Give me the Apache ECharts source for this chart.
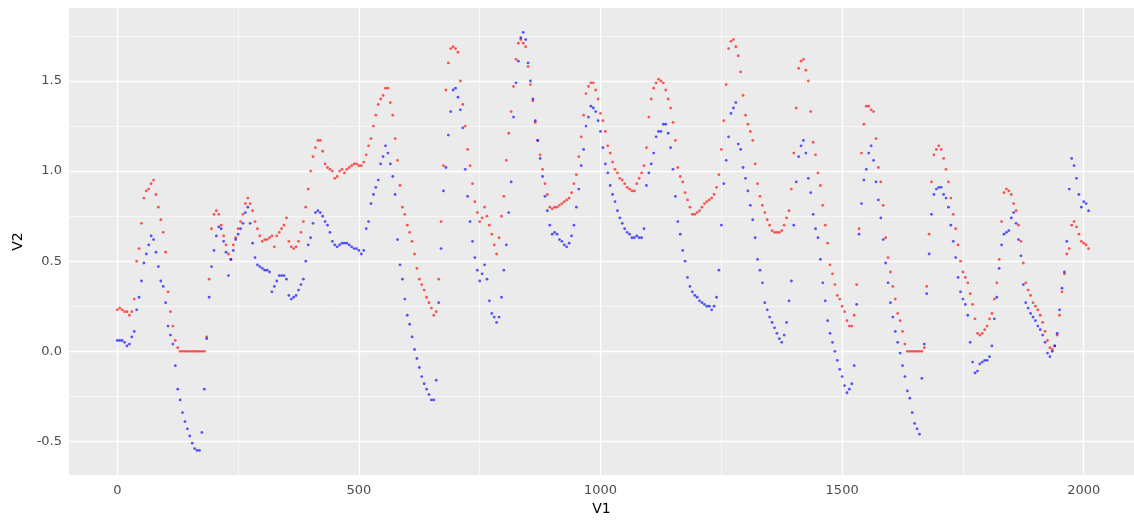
<!DOCTYPE html>
<html>
<head>
<meta charset="utf-8">
<script src="https://cdn.jsdelivr.net/npm/echarts@6/dist/echarts.min.js"></script>
<style>
  html, body { margin: 0; padding: 0; background: #fff; }
  #chart { width: 1134px; height: 521px; }
</style>
</head>
<body>
<div id="chart"></div>
<script>
// V1 runs 0..2010, one reading every 5 units
const v1Step = 5

// red series (V2)
const redV2 = [
  0.23, 0.24, 0.23, 0.22, 0.22, 0.20, 0.22, 0.29, 0.50, 0.57,
  0.71, 0.85, 0.89, 0.90, 0.93, 0.95, 0.87, 0.80, 0.73, 0.66,
  0.55, 0.33, 0.22, 0.14, 0.06, 0.02, 0, 0, 0, 0,
  0, 0, 0, 0, 0, 0, 0, 0.08, 0.40, 0.68,
  0.76, 0.78, 0.76, 0.70, 0.64, 0.59, 0.54, 0.51, 0.59, 0.63,
  0.68, 0.72, 0.76, 0.82, 0.85, 0.82, 0.78, 0.72, 0.68, 0.64,
  0.61, 0.62, 0.62, 0.63, 0.64, 0.58, 0.64, 0.66, 0.68, 0.70,
  0.74, 0.61, 0.58, 0.57, 0.58, 0.61, 0.66, 0.72, 0.80, 0.90,
  1.00, 1.08, 1.13, 1.17, 1.17, 1.11, 1.04, 1.02, 1.01, 1.00,
  0.96, 0.97, 1.00, 1.01, 0.99, 1.01, 1.02, 1.03, 1.04, 1.04,
  1.03, 1.03, 1.05, 1.09, 1.14, 1.18, 1.25, 1.31, 1.37, 1.40,
  1.42, 1.46, 1.46, 1.38, 1.31, 1.18, 1.06, 0.92, 0.80, 0.76,
  0.70, 0.66, 0.61, 0.54, 0.46, 0.40, 0.37, 0.34, 0.30, 0.27,
  0.24, 0.20, 0.22, 0.40, 0.72, 1.03, 1.45, 1.60, 1.68, 1.69,
  1.68, 1.66, 1.50, 1.37, 1.25, 1.12, 1.03, 0.93, 0.83, 0.77,
  0.72, 0.74, 0.80, 0.75, 0.70, 0.65, 0.59, 0.54, 0.63, 0.75,
  0.86, 1.06, 1.21, 1.33, 1.47, 1.62, 1.71, 1.73, 1.71, 1.69,
  1.58, 1.48, 1.39, 1.27, 1.17, 1.09, 1.01, 0.93, 0.87, 0.80,
  0.79, 0.80, 0.80, 0.81, 0.82, 0.83, 0.84, 0.85, 0.88, 0.93,
  0.98, 1.08, 1.19, 1.31, 1.43, 1.47, 1.49, 1.49, 1.45, 1.40,
  1.32, 1.28, 1.22, 1.14, 1.10, 1.05, 1.01, 0.99, 0.96, 0.95,
  0.93, 0.91, 0.90, 0.89, 0.89, 0.93, 0.96, 0.99, 1.03, 1.13,
  1.30, 1.40, 1.46, 1.49, 1.51, 1.50, 1.49, 1.45, 1.40, 1.35,
  1.27, 1.17, 1.02, 0.97, 0.94, 0.88, 0.84, 0.80, 0.76, 0.76,
  0.77, 0.78, 0.80, 0.82, 0.83, 0.84, 0.85, 0.87, 0.91, 0.98,
  1.12, 1.28, 1.48, 1.68, 1.72, 1.73, 1.69, 1.64, 1.55, 1.42,
  1.31, 1.26, 1.22, 1.17, 1.04, 0.93, 0.86, 0.81, 0.77, 0.73,
  0.70, 0.67, 0.66, 0.66, 0.66, 0.67, 0.70, 0.74, 0.78, 0.90,
  1.10, 1.35, 1.57, 1.61, 1.62, 1.56, 1.50, 1.33, 1.16, 1.09,
  0.99, 0.92, 0.81, 0.70, 0.60, 0.48, 0.43, 0.37, 0.31, 0.29,
  0.25, 0.22, 0.17, 0.14, 0.14, 0.20, 0.37, 0.68, 1.10, 1.26,
  1.36, 1.36, 1.34, 1.33, 1.18, 1.02, 0.94, 0.81, 0.63, 0.52,
  0.44, 0.36, 0.29, 0.21, 0.17, 0.11, 0.04, 0, 0, 0,
  0, 0, 0, 0, 0.02, 0.36, 0.65, 0.94, 1.09, 1.12,
  1.14, 1.12, 1.07, 1.01, 0.94, 0.85, 0.76, 0.68, 0.59, 0.50,
  0.44, 0.41, 0.38, 0.32, 0.26, 0.18, 0.10, 0.09, 0.10, 0.12,
  0.14, 0.18, 0.21, 0.29, 0.38, 0.51, 0.72, 0.88, 0.90, 0.89,
  0.87, 0.82, 0.78, 0.70, 0.61, 0.49, 0.38, 0.34, 0.31, 0.27,
  0.25, 0.23, 0.20, 0.16, 0.11, 0.06, 0.02, 0.01, 0.03, 0.09,
  0.20, 0.33, 0.43, 0.54, 0.57, 0.70, 0.72, 0.69, 0.65, 0.61,
  0.60, 0.59, 0.57
]

// blue series (V2)
const blueV2 = [
  0.06, 0.06, 0.06, 0.05, 0.03, 0.04, 0.08, 0.11, 0.23, 0.30,
  0.39, 0.49, 0.54, 0.59, 0.64, 0.62, 0.55, 0.47, 0.39, 0.36,
  0.27, 0.14, 0.09, 0.04, -0.08, -0.21, -0.27, -0.34, -0.39, -0.43,
  -0.47, -0.51, -0.54, -0.55, -0.55, -0.45, -0.21, 0.07, 0.30, 0.47,
  0.56, 0.64, 0.69, 0.68, 0.61, 0.55, 0.42, 0.51, 0.56, 0.62,
  0.65, 0.68, 0.71, 0.77, 0.80, 0.71, 0.60, 0.52, 0.48, 0.47,
  0.46, 0.45, 0.45, 0.44, 0.33, 0.36, 0.39, 0.42, 0.42, 0.42,
  0.40, 0.31, 0.29, 0.30, 0.31, 0.34, 0.37, 0.40, 0.50, 0.59,
  0.63, 0.71, 0.77, 0.78, 0.77, 0.75, 0.72, 0.70, 0.66, 0.61,
  0.59, 0.58, 0.59, 0.60, 0.60, 0.60, 0.59, 0.58, 0.57, 0.57,
  0.56, 0.54, 0.56, 0.68, 0.72, 0.82, 0.87, 0.91, 0.95, 1.04,
  1.08, 1.14, 1.10, 1.04, 0.97, 0.87, 0.62, 0.48, 0.40, 0.29,
  0.20, 0.15, 0.08, 0.01, -0.04, -0.09, -0.14, -0.18, -0.21, -0.24,
  -0.27, -0.27, -0.16, 0.27, 0.57, 0.89, 1.02, 1.20, 1.33, 1.45,
  1.46, 1.41, 1.34, 1.24, 1.01, 0.86, 0.72, 0.61, 0.52, 0.45,
  0.39, 0.43, 0.48, 0.40, 0.28, 0.21, 0.19, 0.16, 0.19, 0.30,
  0.45, 0.59, 0.77, 0.94, 1.30, 1.49, 1.61, 1.74, 1.77, 1.73,
  1.60, 1.50, 1.40, 1.28, 1.17, 1.07, 0.97, 0.86, 0.78, 0.70,
  0.65, 0.66, 0.65, 0.62, 0.61, 0.59, 0.58, 0.60, 0.64, 0.70,
  0.80, 0.90, 1.03, 1.12, 1.25, 1.30, 1.36, 1.35, 1.33, 1.28,
  1.22, 1.13, 1.04, 0.99, 0.92, 0.87, 0.83, 0.78, 0.74, 0.71,
  0.68, 0.66, 0.65, 0.63, 0.63, 0.64, 0.63, 0.63, 0.68, 0.92,
  0.99, 1.04, 1.10, 1.19, 1.22, 1.22, 1.26, 1.26, 1.21, 1.13,
  1.01, 0.86, 0.72, 0.65, 0.56, 0.50, 0.41, 0.36, 0.33, 0.31,
  0.30, 0.28, 0.27, 0.26, 0.25, 0.25, 0.23, 0.25, 0.30, 0.45,
  0.70, 0.93, 1.06, 1.19, 1.32, 1.35, 1.38, 1.15, 1.12, 1.02,
  0.96, 0.89, 0.81, 0.73, 0.63, 0.51, 0.45, 0.38, 0.27, 0.23,
  0.19, 0.16, 0.13, 0.10, 0.07, 0.05, 0.09, 0.16, 0.28, 0.39,
  0.70, 0.94, 1.08, 1.14, 1.17, 1.10, 0.96, 0.88, 0.76, 0.68,
  0.63, 0.51, 0.38, 0.28, 0.17, 0.10, 0.05, 0.00, -0.05, -0.10,
  -0.14, -0.19, -0.23, -0.21, -0.18, -0.08, 0.26, 0.65, 0.82, 0.95,
  1.01, 1.10, 1.14, 1.06, 0.94, 0.84, 0.74, 0.62, 0.49, 0.38,
  0.27, 0.19, 0.11, 0.05, -0.01, -0.08, -0.14, -0.22, -0.26, -0.34,
  -0.40, -0.43, -0.46, -0.15, 0.04, 0.32, 0.54, 0.76, 0.87, 0.90,
  0.91, 0.91, 0.87, 0.85, 0.80, 0.70, 0.61, 0.52, 0.41, 0.33,
  0.29, 0.26, 0.20, 0.05, -0.06, -0.12, -0.11, -0.07, -0.06, -0.05,
  -0.05, -0.03, 0.03, 0.18, 0.30, 0.46, 0.59, 0.65, 0.66, 0.67,
  0.74, 0.77, 0.71, 0.62, 0.53, 0.37, 0.27, 0.24, 0.21, 0.19,
  0.17, 0.14, 0.12, 0.09, 0.05, -0.01, -0.03, 0.00, 0.03, 0.10,
  0.23, 0.35, 0.44, 0.61, 0.90, 1.07, 1.03, 0.96, 0.87, 0.80,
  0.83, 0.82, 0.78
]

// axis breaks (ggplot style: major + minor)
const xMajor = [0, 500, 1000, 1500, 2000]
const xMinor = [250, 750, 1250, 1750]
const yMajor = [-0.5, 0, 0.5, 1, 1.5]
const yMinor = [-0.25, 0.25, 0.75, 1.25, 1.75]

function toPoints(vals){
    let pts = []
    for(let i=0;i<vals.length;i++)
        pts.push([i*v1Step, vals[i]])
    return pts
}

function gridLines(){
    let lines = []
    xMinor.forEach(v => lines.push({xAxis: v, lineStyle: {width: 0.6}}))
    yMinor.forEach(v => lines.push({yAxis: v, lineStyle: {width: 0.6}}))
    xMajor.forEach(v => lines.push({xAxis: v, lineStyle: {width: 1.3}}))
    yMajor.forEach(v => lines.push({yAxis: v, lineStyle: {width: 1.3}}))
    return lines
}

const labelStyle = {
    color: '#4D4D4D',
    fontFamily: 'DejaVu Sans',
    fontSize: 13
}
const nameStyle = {
    color: '#000',
    fontFamily: 'DejaVu Sans',
    fontSize: 14
}

let option = {
    animation: false,
    backgroundColor: '#fff',
    grid: {
        left: 69,
        right: 0,
        top: 8,
        bottom: 35,
        show: true,
        backgroundColor: '#EBEBEB',
        borderWidth: 0
    },
    xAxis: {
        type: 'value',
        min: -100,
        max: 2104,
        name: 'V1',
        nameLocation: 'middle',
        nameGap: 22,
        nameTextStyle: nameStyle,
        axisLine: { show: false },
        axisTick: { show: true, length: 3, lineStyle: { color: '#333' }, customValues: xMajor },
        axisLabel: Object.assign({ margin: 9, customValues: xMajor,
            formatter: v => String(v) }, labelStyle),
        splitLine: { show: false }
    },
    yAxis: {
        type: 'value',
        min: -0.687,
        max: 1.905,
        name: 'V2',
        nameLocation: 'middle',
        nameGap: 42,
        nameTextStyle: nameStyle,
        axisLine: { show: false },
        axisTick: { show: true, length: 3, lineStyle: { color: '#333' }, customValues: yMajor },
        axisLabel: Object.assign({ margin: 7, customValues: yMajor,
            formatter: v => v.toFixed(1) }, labelStyle),
        splitLine: { show: false }
    },
    series: [
        {
            type: 'scatter',
            data: [],
            z: 1,
            silent: true,
            markLine: {
                z: 1,
                silent: true,
                symbol: ['none', 'none'],
                label: { show: false },
                lineStyle: { color: '#FFFFFF', type: 'solid', opacity: 1 },
                emphasis: { disabled: true },
                animation: false,
                data: gridLines()
            }
        },
        {
            name: 'red',
            type: 'scatter',
            z: 3,
            symbolSize: 2.8,
            itemStyle: { color: '#FF0000', opacity: 0.65 },
            data: toPoints(redV2)
        },
        {
            name: 'blue',
            type: 'scatter',
            z: 3,
            symbolSize: 2.8,
            itemStyle: { color: '#0000FF', opacity: 0.65 },
            data: toPoints(blueV2)
        }
    ]
}

let chartDom = echarts.init(document.querySelector("#chart"))
chartDom.setOption(option)
</script>
</body>
</html>
